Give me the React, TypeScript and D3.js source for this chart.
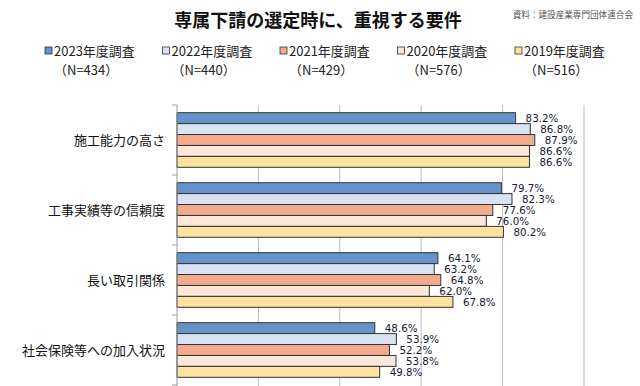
import React, { useEffect, useRef } from 'react';
import * as d3 from 'd3';

const categories = ['施工能力の高さ', '工事実績等の信頼度', '長い取引関係', '社会保険等への加入状況'];
const seriesNames = ['2023年度調査', '2022年度調査', '2021年度調査', '2020年度調査', '2019年度調査'];
const seriesN = ['（N=434）', '（N=440）', '（N=429）', '（N=576）', '（N=516）'];
const colors = ['#6592ca', '#dae3f3', '#f4ab8c', '#fde7da', '#fde39f'];

const values2023 = [83.2, 79.7, 64.1, 48.6];
const values2022 = [86.8, 82.3, 63.2, 53.9];
const values2021 = [87.9, 77.6, 64.8, 52.2];
const values2020 = [86.6, 76.0, 62.0, 53.8];
const values2019 = [86.6, 80.2, 67.8, 49.8];
const allValues = [values2023, values2022, values2021, values2020, values2019];

const xTicks = [20, 40, 60, 80, 100];

const JP = '"Noto Sans CJK JP", "Noto Sans", sans-serif';

function App() {
  const node = useRef<SVGSVGElement>(null);

  useEffect(() => {
    const svg = d3.select(node.current);
    svg.selectAll('*').remove();

    const left = 177, right = 584, top = 105, bottom = 385;

    const x = d3.scaleLinear().domain([0, 100]).range([left, right]);
    const y = d3.scaleBand().domain(categories).range([top, bottom])
      .paddingInner(0.22).paddingOuter(0.11);
    const ySub = d3.scaleBand().domain(seriesNames).range([0, y.bandwidth()]);
    const step = y.step();

    // title + source
    svg.append('text').attr('x', 318).attr('y', 27).attr('text-anchor', 'middle')
      .attr('font-family', JP).attr('font-size', 18).attr('font-weight', 'bold')
      .attr('fill', '#111').text('専属下請の選定時に、重視する要件');
    svg.append('text').attr('x', 633).attr('y', 18).attr('text-anchor', 'end')
      .attr('font-family', JP).attr('font-size', 8.6).attr('fill', '#555')
      .text('資料：建設産業専門団体連合会');

    // legend
    const legend = svg.append('g');
    seriesNames.forEach((s, i) => {
      const lx = 45 + i * 117.5;
      legend.append('rect').attr('x', lx).attr('y', 47).attr('width', 7).attr('height', 7)
        .attr('fill', colors[i]).attr('stroke', '#333').attr('stroke-width', 0.8);
      legend.append('text').attr('x', lx + 9).attr('y', 55.5).attr('font-family', JP)
        .attr('font-size', 13).attr('fill', '#222').text(s);
      legend.append('text').attr('x', lx + 9).attr('y', 74.5).attr('font-family', JP)
        .attr('font-size', 13).attr('fill', '#222').text(seriesN[i]);
    });

    // grid
    svg.append('g').selectAll('line').data(xTicks).enter().append('line')
      .attr('x1', d => x(d)).attr('x2', d => x(d))
      .attr('y1', top).attr('y2', 386)
      .attr('stroke', '#bdbdbd').attr('stroke-width', 1);

    // bars
    const groups = svg.append('g').selectAll('g').data(categories).enter().append('g')
      .attr('transform', d => `translate(0,${y(d)})`);

    seriesNames.forEach((s, si) => {
      groups.append('rect')
        .attr('x', left)
        .attr('y', ySub(s)!)
        .attr('width', (d, ci) => x(allValues[si][ci]) - left)
        .attr('height', ySub.bandwidth())
        .attr('fill', colors[si])
        .attr('stroke', '#333')
        .attr('stroke-width', 1);
      groups.append('text')
        .attr('x', (d, ci) => x(allValues[si][ci]) + 10)
        .attr('y', ySub(s)! + ySub.bandwidth() / 2)
        .attr('dy', '0.36em')
        .attr('font-family', '"DejaVu Sans", sans-serif')
        .attr('font-size', 10.3)
        .attr('fill', '#141a33')
        .text((d, ci) => `${allValues[si][ci].toFixed(1)}%`);
    });

    // y axis
    const axis = svg.append('g');
    axis.append('line').attr('x1', left).attr('x2', left).attr('y1', top).attr('y2', 386)
      .attr('stroke', '#999');
    const bounds = categories.map(c => y(c)! - (step - y.bandwidth()) / 2).concat([bottom]);
    axis.selectAll('.tk').data(bounds).enter().append('line')
      .attr('x1', left - 5).attr('x2', left).attr('y1', d => d).attr('y2', d => d)
      .attr('stroke', '#999');
    axis.selectAll('.lbl').data(categories).enter().append('text')
      .attr('x', 165).attr('y', d => y(d)! + y.bandwidth() / 2).attr('dy', '0.36em')
      .attr('text-anchor', 'end').attr('font-family', JP).attr('font-size', 13)
      .attr('fill', '#111').text(d => d);
  }, []);

  return (
    <div style={{ position: 'absolute', left: 0, top: 0 }}>
      <svg ref={node} width={640} height={386} style={{ display: 'block', background: '#fff' }} />
    </div>
  );
}

export default App;
